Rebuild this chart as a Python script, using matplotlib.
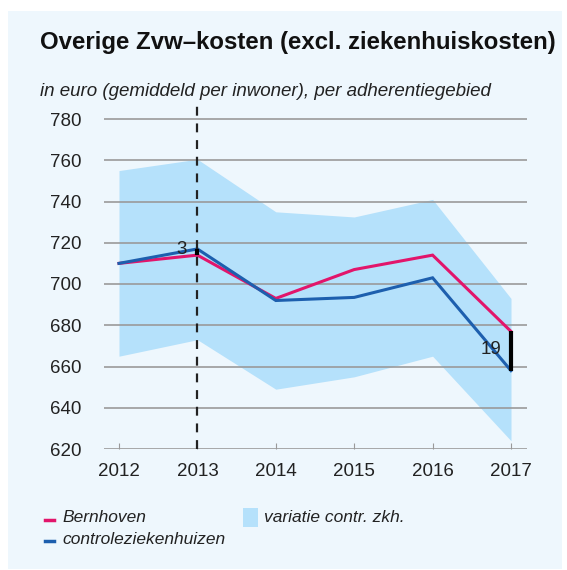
import matplotlib
matplotlib.use("Agg")
import matplotlib.pyplot as plt
from matplotlib.patches import Rectangle

plt.rcParams['font.family'] = ['Liberation Sans', 'DejaVu Sans']

years = [2012, 2013, 2014, 2015, 2016, 2017]
bernhoven = [710, 714, 693, 707, 714, 677]
controle = [710, 717, 692, 693.5, 703, 658]
band_upper = [755, 760.5, 735, 732.5, 741, 693]
band_lower = [665, 673, 649, 655, 665, 624]
yticks = [620, 640, 660, 680, 700, 720, 740, 760, 780]

pink = '#E2156B'
blue = '#1D5FAE'
bandc = '#B5E1FB'
bg = '#EEF7FD'

W, H = 567, 570
fig = plt.figure(figsize=(5.67, 5.70), dpi=100)
fig.patch.set_facecolor('white')
fig.patches.append(Rectangle((8 / W, 1 - 569 / H), (562 - 8) / W, (569 - 11) / H,
                             transform=fig.transFigure, facecolor=bg, edgecolor='none', zorder=-10))

# axes: x 2012->119px, 2017->511px ; y 780->119px, 620->449px
px_per_year = (511 - 119) / 5
px_per_unit = (449 - 119) / 160
x0px, x1px = 104, 527
ytop_px, ybot_px = 102, 449
ax = fig.add_axes([x0px / W, 1 - ybot_px / H, (x1px - x0px) / W, (ybot_px - ytop_px) / H])
ax.set_facecolor('none')
ax.set_xlim(2012 - (119 - x0px) / px_per_year, 2017 + (x1px - 511) / px_per_year)
ax.set_ylim(620, 780 + (119 - ytop_px) / px_per_unit)

ax.fill_between(years, band_lower, band_upper, color=bandc, lw=0, zorder=1)
for yv in yticks:
    ax.axhline(yv, color='#9a9a9a', lw=1.2, zorder=2)
ax.plot(years, bernhoven, color=pink, lw=2.2, zorder=4, solid_joinstyle='miter')
ax.plot(years, controle, color=blue, lw=2.2, zorder=5, solid_joinstyle='miter')
ax.axvline(2013, color='#222222', lw=1.6, ls=(0, (4, 3.5)), zorder=6)

# difference markers
ax.plot([2013, 2013], [bernhoven[1], controle[1]], color='black', lw=3, zorder=7, solid_capstyle='butt')
ax.plot([2017, 2017], [controle[5], bernhoven[5]], color='black', lw=3, zorder=7, solid_capstyle='butt')
ax.text(2012.80, 716.5, f"{controle[1] - bernhoven[1]:.0f}", ha='center', va='center', fontsize=13.5, color='#222222', zorder=8)
ax.text(2016.745, 668, f"{bernhoven[5] - controle[5]:.0f}", ha='center', va='center', fontsize=13.5, color='#222222', zorder=8)

for s in ax.spines.values():
    s.set_visible(False)
ax.set_yticks(yticks)
ax.set_yticklabels([str(v) for v in yticks], fontsize=13.5, color='#222222')
ax.tick_params(axis='y', length=0, pad=16)
ax.set_xticks(years)
ax.set_xticklabels([str(v) for v in years], fontsize=13.5, color='#222222')
ax.tick_params(axis='x', length=4, color='#9a9a9a', direction='in', pad=10)

fig.text(40 / W, 1 - 49 / H, "Overige Zvw\u2013kosten (excl. ziekenhuiskosten)", fontsize=17.3,
         fontweight='bold', ha='left', va='baseline', color='#111111')
fig.text(40 / W, 1 - 96 / H, "in euro (gemiddeld per inwoner), per adherentiegebied", fontsize=13.5,
         style='italic', ha='left', va='baseline', color='#222222')

# legend
fig.lines.append(plt.Line2D([45 / W, 54 / W], [1 - 520 / H, 1 - 520 / H], transform=fig.transFigure, color=pink, lw=2.5))
fig.lines.append(plt.Line2D([45 / W, 54 / W], [1 - 541 / H, 1 - 541 / H], transform=fig.transFigure, color=blue, lw=2.5))
fig.text(62 / W, 1 - 518 / H, "Bernhoven", fontsize=12.5, style='italic', ha='left', va='center', color='#222222')
fig.text(62 / W, 1 - 539 / H, "controleziekenhuizen", fontsize=12.5, style='italic', ha='left', va='center', color='#222222')
fig.patches.append(Rectangle((243 / W, 1 - 527 / H), 15 / W, 19 / H, transform=fig.transFigure,
                             facecolor=bandc, edgecolor='none'))
fig.text(264 / W, 1 - 518 / H, "variatie contr. zkh.", fontsize=12.5, style='italic', ha='left', va='center', color='#222222')

fig.savefig("out.png", dpi=100)
